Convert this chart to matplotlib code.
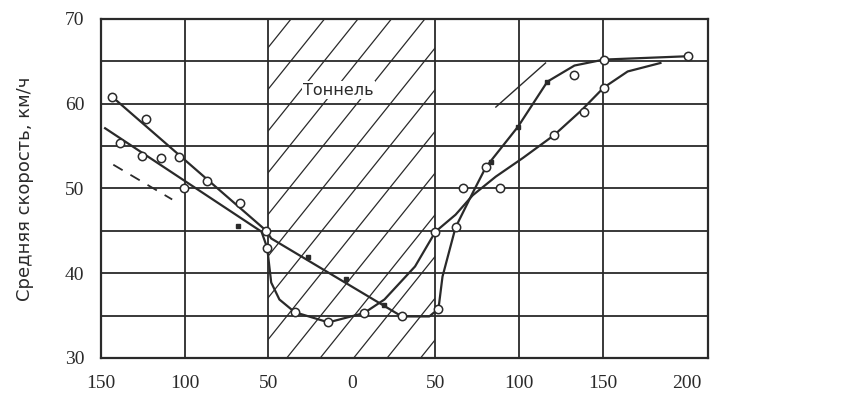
import numpy as np
import matplotlib.pyplot as plt
from matplotlib.patches import Rectangle
from matplotlib.ticker import FuncFormatter

# distance to tunnel portal (m), tunnel spans -50..50
x_ticks = [-150, -100, -50, 0, 50, 100, 150, 200]
y_ticks = [30, 35, 40, 45, 50, 55, 60, 65, 70]
tunnel_span = [-50, 50]

# upper approach line, straight run through tunnel, steep rise after exit
line_a_x = [-143.2, -51.1, -48.2, 29.9, 46.3, 51.8, 54.2, 62.0, 72.3, 80.1, 99.4, 116.9, 133.1, 150.6, 201.2]
line_a_y = [60.8, 45.0, 44.1, 34.9, 34.9, 35.8, 39.6, 45.4, 49.5, 52.5, 57.3, 62.6, 64.5, 65.2, 65.6]

# lower approach line, U-shaped drop inside tunnel, gentler rise after exit
line_b_x = [-147.5, -54.0, -50.6, -48.2, -43.3, -34.1, -14.0, 7.3, 19.5, 37.8, 50.0, 62.0, 72.3,
            86.1, 102.3, 121.0, 137.2, 150.6, 164.9, 184.5]
line_b_y = [57.1, 44.9, 43.0, 38.9, 36.9, 35.4, 34.2, 35.3, 36.9, 40.8, 44.9, 46.9, 49.2,
            51.4, 53.6, 56.3, 59.2, 61.9, 63.8, 64.8]

dashed_x = [-142.6, -107.4]
dashed_y = [52.8, 48.7]

thin_x = [86.1, 115.8]
thin_y = [59.6, 64.8]

open_x = [-143.2, -122.8, -138.3, -125.3, -114.2, -103.1, -100.6, -86.8, -66.7, -51.1, -50.6,
          -34.1, -14.0, 7.3, 29.9, 51.8, 50.0, 62.0, 66.7, 88.5, 80.1, 121.0, 139.0, 150.6,
          133.1, 150.6, 201.2]
open_y = [60.8, 58.2, 55.4, 53.8, 53.6, 53.7, 50.0, 50.9, 48.3, 45.0, 43.0,
          35.4, 34.2, 35.3, 34.9, 35.8, 44.9, 45.4, 50.0, 50.1, 52.5, 56.3, 59.0, 61.9,
          63.4, 65.2, 65.6]

filled_x = [-67.8, -26.2, -3.7, 19.5, 83.1, 99.4, 116.9]
filled_y = [45.6, 41.9, 39.3, 36.2, 53.1, 57.3, 62.6]

ink = "#2a2a2a"

fig = plt.figure(figsize=(8.41, 4.11), dpi=100)
ax = fig.add_axes([0.120, 0.129, 0.722, 0.825])
ax.set_xlim(-150, 213)
ax.set_ylim(30, 70)

# tunnel: hatched band
rect = Rectangle((tunnel_span[0], 30), tunnel_span[1] - tunnel_span[0], 40,
                 facecolor="none", edgecolor="none")
ax.add_patch(rect)
slope = 0.246
for c in np.arange(-158.9 - 20 * 8, 60, 20):
    xs = np.array([c, c + 40 / slope])
    ln, = ax.plot(xs, 30 + slope * (xs - c), color=ink, lw=0.9, zorder=1)
    ln.set_clip_path(rect)

# grid
for xv in [-150, -100, -50, 50, 100, 150]:
    ax.axvline(xv, color=ink, lw=1.3, zorder=1)
for yv in y_ticks:
    ax.axhline(yv, color=ink, lw=1.3, zorder=1)

ax.plot(line_a_x, line_a_y, color=ink, lw=1.6, zorder=2)
ax.plot(line_b_x, line_b_y, color=ink, lw=1.6, zorder=2)
ax.plot(dashed_x, dashed_y, color=ink, lw=1.3, ls=(0, (6, 5)), zorder=2)
ax.plot(thin_x, thin_y, color=ink, lw=1.0, zorder=2)

ax.plot(open_x, open_y, ls="none", marker="o", ms=6, mfc="white", mec=ink, mew=1.1, zorder=3)
ax.plot(filled_x, filled_y, ls="none", marker="s", ms=3.5, mfc=ink, mec=ink, zorder=3)

ax.text(-8, 61.6, "Тоннель", ha="center", va="center", fontsize=11.5,
        family="DejaVu Sans", color=ink,
        bbox=dict(facecolor="white", edgecolor="none", pad=1))

ax.set_xticks(x_ticks)
ax.xaxis.set_major_formatter(FuncFormatter(lambda v, p: f"{abs(int(v))}"))
ax.set_yticks([30, 40, 50, 60, 70])
ax.tick_params(length=0, labelsize=14, colors=ink, pad=12)
for lbl in ax.get_xticklabels() + ax.get_yticklabels():
    lbl.set_family("Liberation Serif")

ax.set_ylabel("Средняя скорость, км/ч", fontsize=13, color=ink, labelpad=22)

for s in ax.spines.values():
    s.set_linewidth(1.6)
    s.set_color(ink)

fig.savefig("out.png", dpi=100, facecolor="white")
